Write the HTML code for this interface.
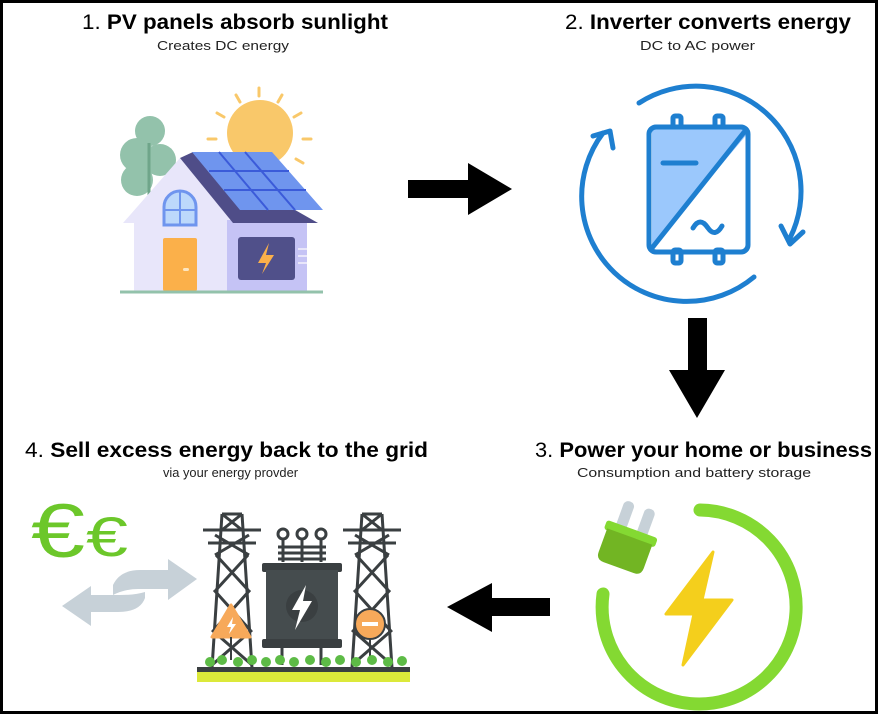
<!DOCTYPE html>
<html><head><meta charset="utf-8"><style>
html,body{margin:0;padding:0;background:#fff}
svg{display:block}
text{font-family:"Liberation Sans",sans-serif}
</style></head><body>
<svg width="879" height="715" viewBox="0 0 879 715" xmlns="http://www.w3.org/2000/svg">
<rect x="1.5" y="1.5" width="875" height="711" fill="#fff" stroke="#000" stroke-width="3"/>
<text x="82" y="29" font-size="21" textLength="306" lengthAdjust="spacingAndGlyphs"><tspan>1. </tspan><tspan font-weight="bold">PV panels absorb sunlight</tspan></text>
<text x="157" y="50" font-size="13" textLength="132" lengthAdjust="spacingAndGlyphs" fill="#222">Creates DC energy</text>
<text x="565" y="29" font-size="21" textLength="286" lengthAdjust="spacingAndGlyphs"><tspan>2. </tspan><tspan font-weight="bold">Inverter converts energy</tspan></text>
<text x="640" y="50" font-size="13" textLength="115" lengthAdjust="spacingAndGlyphs" fill="#222">DC to AC power</text>
<text x="535" y="457" font-size="21" textLength="337" lengthAdjust="spacingAndGlyphs"><tspan>3. </tspan><tspan font-weight="bold">Power your home or business</tspan></text>
<text x="577" y="477" font-size="13" textLength="234" lengthAdjust="spacingAndGlyphs" fill="#222">Consumption and battery storage</text>
<text x="25" y="457" font-size="21" textLength="403" lengthAdjust="spacingAndGlyphs"><tspan>4. </tspan><tspan font-weight="bold">Sell excess energy back to the grid</tspan></text>
<text x="163" y="477" font-size="13" textLength="135" lengthAdjust="spacingAndGlyphs" fill="#222">via your energy provder</text>

<path d="M408 180 H468 V163 L512 189 L468 215 V198 H408Z" fill="#000"/>
<path d="M688 318 H707 V370 H725 L697 418 L669 370 H688Z" fill="#000"/>
<path d="M550 598 H492 V583 L447 607 L492 632 V616 H550Z" fill="#000"/>

<g>
 <circle cx="150" cy="131" r="15" fill="#93c2ab"/>
 <circle cx="137" cy="155" r="17" fill="#93c2ab"/>
 <circle cx="137" cy="180" r="16" fill="#93c2ab"/>
 <circle cx="160" cy="160" r="16" fill="#93c2ab"/>
 <line x1="149" y1="143" x2="149" y2="196" stroke="#6fa58a" stroke-width="3"/>
 <circle cx="260" cy="133" r="33" fill="#f9c86a"/>
 <g stroke="#f9c86a" stroke-width="3" stroke-linecap="round">
  <line x1="259" y1="88" x2="259" y2="96"/><line x1="236" y1="95" x2="240" y2="102"/><line x1="282" y1="95" x2="278" y2="102"/>
  <line x1="217" y1="113" x2="224" y2="117"/><line x1="301" y1="113" x2="294" y2="117"/>
  <line x1="208" y1="139" x2="216" y2="139"/><line x1="303" y1="139" x2="311" y2="139"/>
  <line x1="296" y1="159" x2="303" y2="163"/>
 </g>
 <polygon points="180,158 123,223 134,223 134,291 227,291 227,223 233,223" fill="#e8e6fa"/>
 <rect x="227" y="220" width="80" height="71" fill="#c5c3f5"/>
 <polygon points="180,158 193,152 318,223 233,223" fill="#4f4d88"/>
 <polygon points="192,152 272,152 323,210 240,210" fill="#6f95ee"/>
 <g stroke="#3b5bd9" stroke-width="2">
  <line x1="219" y1="152" x2="268" y2="210"/><line x1="245" y1="152" x2="295" y2="210"/>
  <line x1="209" y1="171" x2="289" y2="171"/><line x1="224" y1="190" x2="306" y2="190"/>
 </g>
 <rect x="238" y="237" width="57" height="43" rx="3" fill="#50508a"/>
 <polygon points="269,243 258,263 266,263 262,274 274,255 266,255" fill="#fbb04a"/>
 <g stroke="#e8e6fa" stroke-width="2"><line x1="298" y1="249" x2="307" y2="249"/><line x1="298" y1="256" x2="307" y2="256"/><line x1="298" y1="263" x2="307" y2="263"/></g>
 <rect x="163" y="238" width="34" height="53" rx="2" fill="#fbb04a"/>
 <rect x="183" y="268" width="6" height="3" rx="1.5" fill="#fde6c0"/>
 <path d="M164 225 V207 A16 16 0 0 1 196 207 V225Z" fill="#bcd8fb" stroke="#6f95ee" stroke-width="3"/>
 <line x1="180" y1="192" x2="180" y2="225" stroke="#6f95ee" stroke-width="2"/>
 <line x1="164" y1="210" x2="196" y2="210" stroke="#6f95ee" stroke-width="2"/>
 <line x1="120" y1="292" x2="323" y2="292" stroke="#93c2ab" stroke-width="3"/>
</g>

<g stroke="#1e7fd0" stroke-width="5" fill="none" stroke-linecap="round" stroke-linejoin="round">
 <path d="M639 103 A105 105 0 0 1 790 238"/>
 <path d="M781 226 L790 244 L803 232"/>
 <path d="M754 277 A105 105 0 0 1 603 133"/>
 <path d="M593 136 L610 131 L613 148"/>
 <rect x="673" y="116" width="8" height="13" rx="2" fill="#fff"/>
 <rect x="715" y="116" width="8" height="13" rx="2" fill="#fff"/>
 <rect x="673" y="250" width="8" height="13" rx="2" fill="#fff"/>
 <rect x="715" y="250" width="8" height="13" rx="2" fill="#fff"/>
 <path d="M653 127 H742 A6 6 0 0 1 748 133 L652 247 V133 A6 6 0 0 1 653 127Z" fill="#9bc8fc" stroke="none"/>
 <rect x="649" y="127" width="99" height="125" rx="7"/>
 <line x1="652" y1="248" x2="745" y2="131"/>
 <line x1="663" y1="163" x2="696" y2="163"/>
 <path d="M693 228 Q700 216 708 228 Q715 238 722 226"/>
</g>

<g>
 <path d="M700 510 A97 97 0 1 1 603 594" fill="none" stroke="#84d932" stroke-width="13" stroke-linecap="round"/>
 <g transform="rotate(20 622 555)">
  <rect x="606" y="502" width="11" height="32" rx="5" fill="#c7d1d8"/>
  <rect x="628" y="502" width="11" height="32" rx="5" fill="#c7d1d8"/>
  <rect x="596" y="527" width="54" height="10" rx="3" fill="#84d932"/>
  <path d="M599 535 H647 V560 Q647 568 639 568 H607 Q599 568 599 560Z" fill="#72b523"/>
 </g>
 <polygon points="713,552 666,614 694,614 683,665 732,600 702,600" fill="#f4cf1c" stroke="#f4cf1c" stroke-width="3" stroke-linejoin="round"/>
</g>

<g>
 <text x="31" y="557" font-size="76" fill="#6cc72a" textLength="54" lengthAdjust="spacingAndGlyphs">€</text>
 <text x="86" y="556" font-size="56" fill="#6cc72a" textLength="42" lengthAdjust="spacingAndGlyphs">€</text>
 <path d="M113 585 Q120 570 140 570 H168 V559 L197 579 L168 600 V589 H138 Q125 589 113 595Z" fill="#c7d1d8"/>
 <path d="M145 598 Q140 612 118 612 H91 V626 L62 606 L91 586 V595 H120 Q135 595 145 592Z" fill="#c7d1d8"/>
 <g stroke="#3a3f41" stroke-width="3" fill="none">
  <path d="M222 514 L212 668 M242 514 L252 668"/>
  <path d="M203 530 H261 M208 543 H256 M215 535 L249 555 M249 535 L215 555 M216 555 L248 590 M248 555 L216 590 M214 590 L250 630 M250 590 L214 630 M212 630 L252 665 M252 630 L212 665 M222 514 H242 M222 514 L242 530 M242 514 L222 530"/>
  <path d="M362 514 L352 668 M382 514 L392 668"/>
  <path d="M343 530 H401 M348 543 H396 M355 535 L389 555 M389 535 L355 555 M356 555 L388 590 M388 555 L356 590 M354 590 L390 630 M390 590 L354 630 M352 630 L392 665 M392 630 L352 665 M362 514 H382 M362 514 L382 530 M382 514 L362 530"/>
 </g>
 <g stroke="#3a3f41" stroke-width="3" fill="none">
  <circle cx="283" cy="534" r="5"/><circle cx="302" cy="534" r="5"/><circle cx="321" cy="534" r="5"/>
  <path d="M283 539 V562 M302 539 V562 M321 539 V562 M278 547 H326 M278 553 H326 M278 559 H326"/>
 </g>
 <rect x="262" y="563" width="80" height="9" rx="2" fill="#3a3f41"/>
 <rect x="266" y="570" width="72" height="72" fill="#454c4e"/>
 <rect x="262" y="639" width="80" height="9" rx="2" fill="#3a3f41"/>
 <circle cx="302" cy="606" r="16" fill="#3a3f41"/>
 <polygon points="306,585 292,610 300,610 295,630 312,601 303,601" fill="#fff"/>
 <path d="M282 648 V665 M321 648 V665" stroke="#3a3f41" stroke-width="3"/>
 <polygon points="231,605 212,637 250,637" fill="#f7a95a" stroke="#f7a95a" stroke-width="3" stroke-linejoin="round"/>
 <polygon points="233,617 227,627 231,627 229,634 236,624 232,624" fill="#fff"/>
 <circle cx="370" cy="624" r="15" fill="#f7a95a" stroke="#3a3f41" stroke-width="2"/>
 <rect x="362" y="622" width="16" height="4" fill="#fff"/>
 <path d="M231 637 V660 M370 639 V660" stroke="#3a3f41" stroke-width="2"/>
 <g fill="#5dbb46">
  <circle cx="210" cy="662" r="5"/><circle cx="222" cy="660" r="5"/><circle cx="238" cy="662" r="5"/><circle cx="252" cy="660" r="5"/><circle cx="266" cy="662" r="5"/><circle cx="280" cy="660" r="5"/><circle cx="294" cy="662" r="5"/><circle cx="310" cy="660" r="5"/><circle cx="326" cy="662" r="5"/><circle cx="340" cy="660" r="5"/><circle cx="356" cy="662" r="5"/><circle cx="372" cy="660" r="5"/><circle cx="388" cy="662" r="5"/><circle cx="402" cy="661" r="5"/>
 </g>
 <rect x="197" y="667" width="213" height="5" fill="#3a3f41"/>
 <rect x="197" y="672" width="213" height="10" fill="#dce93a"/>
</g>
</svg>
</body></html>
